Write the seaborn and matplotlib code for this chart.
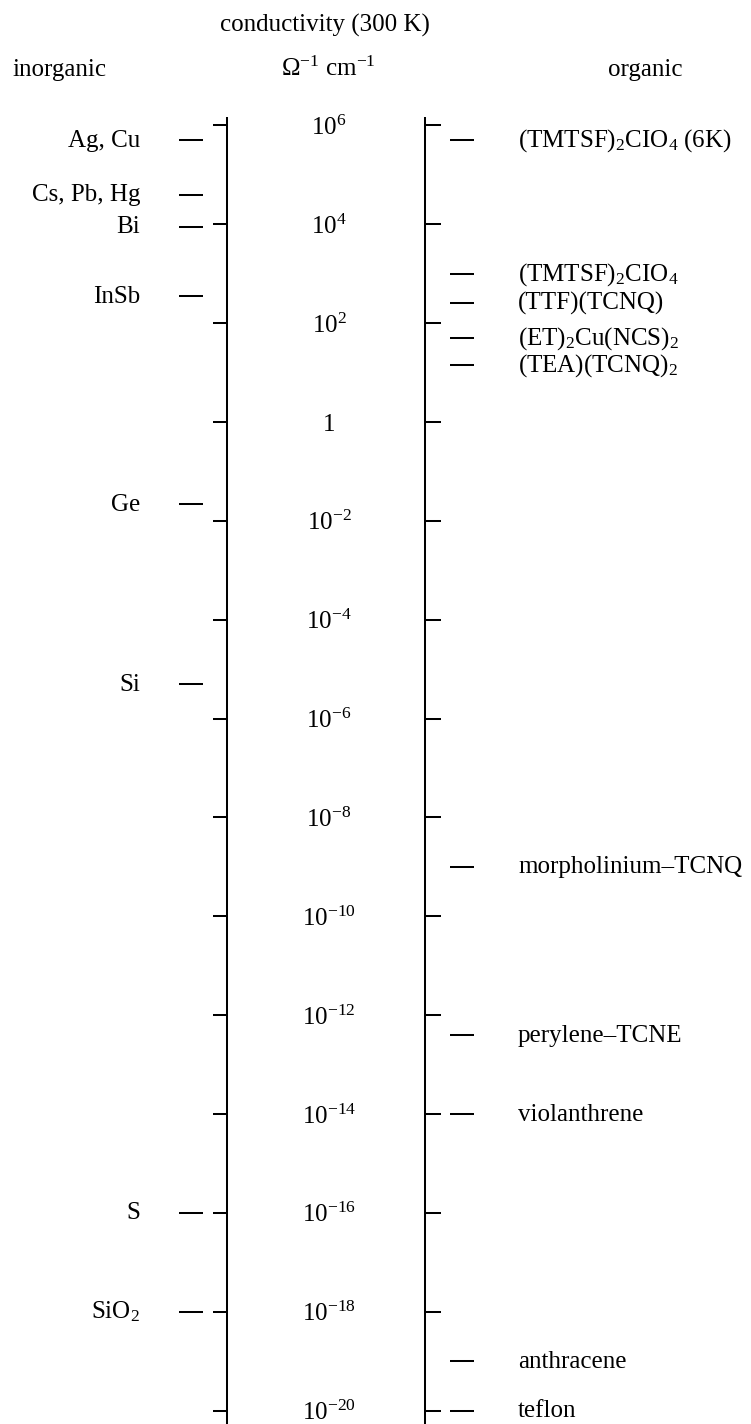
import numpy as np
import pandas as pd
import matplotlib
matplotlib.use("Agg")
import matplotlib.pyplot as plt
import seaborn as sns

# ---------------- data (log10 of conductivity, S/cm at 300 K) ----------------
inorganic_labels = ["Ag, Cu", "Cs, Pb, Hg", "Bi", "InSb", "Ge", "Si", "S", "SiO$_2$"]
inorganic_log10 = [5.7, 4.6, 3.95, 2.55, -1.66, -5.3, -16.0, -18.0]

organic_labels = [
    "(TMTSF)$_2$CIO$_4$ (6K)",
    "(TMTSF)$_2$CIO$_4$",
    "(TTF)(TCNQ)",
    "(ET)$_2$Cu(NCS)$_2$",
    "(TEA)(TCNQ)$_2$",
    "morpholinium\u2013TCNQ",
    "perylene\u2013TCNE",
    "violanthrene",
    "anthracene",
    "teflon",
]
organic_log10 = [5.7, 3.0, 2.4, 1.7, 1.15, -9.0, -12.4, -14.0, -19.0, -20.0]

tick_exponents = [6, 4, 2, 0, -2, -4, -6, -8, -10, -12, -14, -16, -18, -20]

title_text = "conductivity (300 K)"
unit_text = "\u03a9$^{-1}$ cm$^{-1}$"
left_heading = "inorganic"
right_heading = "organic"

# ---------------- style ----------------
sns.set_theme(style="white")
plt.rcParams["font.family"] = ["Liberation Serif", "DejaVu Serif"]
plt.rcParams["text.color"] = "black"
plt.rcParams["mathtext.fontset"] = "custom"
plt.rcParams["mathtext.rm"] = "Liberation Serif"
plt.rcParams["mathtext.it"] = "Liberation Serif:italic"
plt.rcParams["mathtext.bf"] = "Liberation Serif:bold"
plt.rcParams["mathtext.default"] = "rm"

W, H = 751, 1424
FS = 18
LW = 1.45

fig = plt.figure(figsize=(W / 100, H / 100), dpi=100)
ax = fig.add_axes([0, 0, 1, 1])

inorg = pd.DataFrame({"x": 190.5, "sigma": np.power(10.0, inorganic_log10)})
org = pd.DataFrame({"x": 461.5, "sigma": np.power(10.0, organic_log10)})
ticks = np.power(10.0, np.array(tick_exponents, dtype=float))

ax.set_yscale("log")

# data dashes via seaborn
sns.scatterplot(data=inorg, x="x", y="sigma", marker="_", s=299, color="black",
                linewidth=LW, ax=ax, legend=False)
sns.scatterplot(data=org, x="x", y="sigma", marker="_", s=299, color="black",
                linewidth=LW, ax=ax, legend=False)

# the two vertical scales
ax.vlines([227, 424.5], 10 ** -20.5, 10 ** 6.18, color="black", lw=LW)
ax.hlines(ticks, 213, 227, color="black", lw=LW)
ax.hlines(ticks, 424.5, 440.5, color="black", lw=LW)

# tick labels in the middle
for e, t in zip(tick_exponents, ticks):
    lab = "1" if e == 0 else "$10^{%d}$" % e
    ax.annotate(lab, xy=(329, t), xytext=(0, -6.8), textcoords="offset points",
                ha="center", va="baseline", fontsize=FS, color="black")

# material labels
for lab, v in zip(inorganic_labels, inorg["sigma"]):
    ax.annotate(lab, xy=(140, v), xytext=(0, -4.7), textcoords="offset points",
                ha="right", va="baseline", fontsize=FS, color="black")
for lab, v in zip(organic_labels, org["sigma"]):
    ax.annotate(lab, xy=(518, v), xytext=(0, -4.7), textcoords="offset points",
                ha="left", va="baseline", fontsize=FS, color="black")

# pixel rows: 10^6 at y=125.5, 10^-20 at y=1411 (49.44 px per decade)
ax.set_xlim(0, W)
ax.set_ylim(10 ** -20.27, 10 ** 8.538)
ax.axis("off")

# headings
fig.text(324.5 / W, 1 - 31.5 / H, title_text, ha="center", va="baseline",
         fontsize=FS, color="black")
fig.text(328 / W, 1 - 76 / H, unit_text, ha="center", va="baseline",
         fontsize=FS, color="black")
fig.text(59.5 / W, 1 - 76 / H, left_heading, ha="center", va="baseline",
         fontsize=FS, color="black")
fig.text(645 / W, 1 - 76 / H, right_heading, ha="center", va="baseline",
         fontsize=FS, color="black")

fig.savefig("out.png", dpi=100, facecolor="white")
